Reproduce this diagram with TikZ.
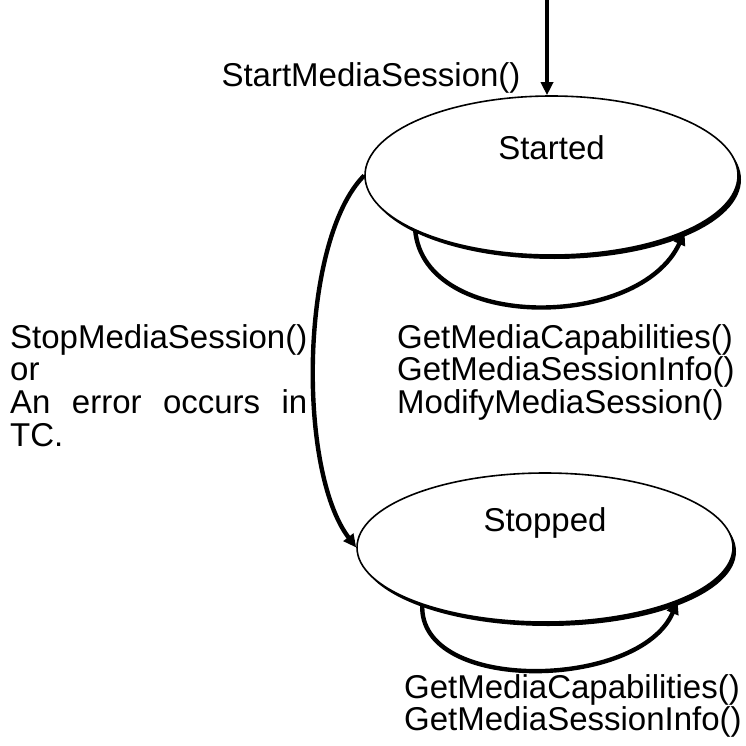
\documentclass[tikz,border=0pt]{standalone}
\usepackage{fontspec}
\setmainfont{Liberation Sans}
\usetikzlibrary{arrows.meta}
\usetikzlibrary{shapes.geometric}
\usetikzlibrary{shadows}
\def\statelinewidth{1.6pt}
\def\translinewidth{4.4pt}
\def\labelsize{\fontsize{33}{32.7}\selectfont}
\newlength\stopcallwidth
\tikzset{
  statebox/.style={ellipse,draw,line width=\statelinewidth,fill=white,inner sep=0pt,
    drop shadow={shadow xshift=3pt,shadow yshift=-4pt,opacity=1,fill=black}},
  trans/.style={line width=\translinewidth,-{Triangle[length=13pt,width=12pt]}},
  txt/.style={font=\labelsize,inner sep=0pt},
}

\begin{document}
\begin{tikzpicture}[x=1pt,y=-1pt]
        \useasboundingbox (0,0) rectangle (746,746);
        % the two states
        \node[statebox,minimum width=373pt,minimum height=159pt] (started) at (551.5,175.5) {};
        \node[statebox,minimum width=376pt,minimum height=149pt] (stopped) at (545,547.5) {};
        \node[txt] (startedname) at ([yshift=28pt]started.center) {Started};
        \node[txt] (stoppedname) at ([yshift=25pt]stopped.center) {Stopped};
        % entry
        \coordinate (entry) at (547,0);
        \draw[trans] (entry) -- (entry |- started.north);
        \node[txt] (startcall) at (371,78) {StartMediaSession()};
        % self loops
        \draw[trans] (started.202) .. controls (425,332) and (640,330) .. (started.337);
        \draw[trans] (stopped.205) .. controls (418,694) and (640,690) .. (stopped.338);
        % started -> stopped
        \draw[trans] (started.west) .. controls (300,240) and (297,470) .. (stopped.west);
        % labels
        \node[txt,anchor=north west,align=left] (stopcall) at (10,324)
            {\settowidth{\stopcallwidth}{StopMediaSession()}\global\stopcallwidth=\stopcallwidth
             StopMediaSession()\\or\\\makebox[\stopcallwidth][l]{An\hfill error\hfill occurs\hfill in}\\TC.};
        \node[txt,anchor=north west,align=left] (startedcalls) at (397,324)
            {GetMediaCapabilities()\\GetMediaSessionInfo()\\ModifyMediaSession()};
        \node[txt,anchor=north west,align=left] (stoppedcalls) at (404,674)
            {GetMediaCapabilities()\\GetMediaSessionInfo()};
\end{tikzpicture}
\end{document}
